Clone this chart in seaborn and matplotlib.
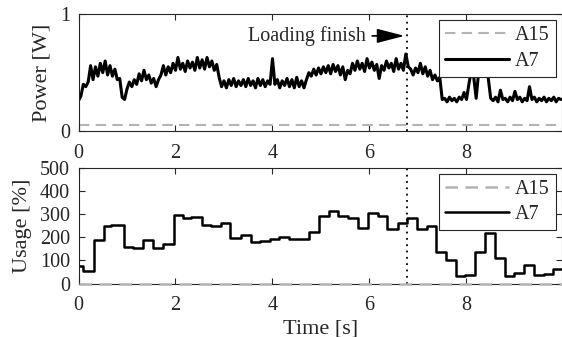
import matplotlib
matplotlib.use("Agg")
import matplotlib.pyplot as plt
import seaborn as sns
import numpy as np
import pandas as pd

power_t = [round(0.05 * i, 2) for i in range(200)]
power_a7 = [
    0.26, 0.30, 0.40, 0.38, 0.42, 0.56, 0.44, 0.55, 0.47, 0.58,
    0.50, 0.60, 0.48, 0.56, 0.47, 0.53, 0.44, 0.45, 0.29, 0.27,
    0.36, 0.42, 0.38, 0.44, 0.40, 0.49, 0.43, 0.52, 0.44, 0.48,
    0.41, 0.45, 0.38, 0.44, 0.48, 0.56, 0.48, 0.55, 0.50, 0.58,
    0.52, 0.63, 0.53, 0.58, 0.51, 0.60, 0.54, 0.59, 0.52, 0.63,
    0.54, 0.61, 0.53, 0.63, 0.55, 0.60, 0.52, 0.57, 0.46, 0.38,
    0.43, 0.37, 0.44, 0.39, 0.45, 0.38, 0.43, 0.39, 0.44, 0.38,
    0.45, 0.39, 0.43, 0.37, 0.45, 0.39, 0.44, 0.38, 0.43, 0.40,
    0.62, 0.40, 0.44, 0.37, 0.43, 0.39, 0.45, 0.38, 0.44, 0.37,
    0.46, 0.38, 0.43, 0.37, 0.44, 0.50, 0.47, 0.53, 0.48, 0.54,
    0.49, 0.55, 0.50, 0.56, 0.49, 0.57, 0.51, 0.56, 0.48, 0.55,
    0.44, 0.52, 0.49, 0.58, 0.52, 0.60, 0.53, 0.58, 0.51, 0.62,
    0.54, 0.59, 0.52, 0.57, 0.45, 0.56, 0.52, 0.60, 0.54, 0.58,
    0.51, 0.62, 0.53, 0.58, 0.52, 0.66, 0.55, 0.53, 0.48, 0.54,
    0.50, 0.58, 0.49, 0.55, 0.47, 0.52, 0.44, 0.48, 0.43, 0.46,
    0.27, 0.28, 0.25, 0.29, 0.26, 0.28, 0.25, 0.29, 0.27, 0.33,
    0.27, 0.40, 0.52, 0.46, 0.28, 0.50, 0.56, 0.47, 0.52, 0.45,
    0.28, 0.26, 0.29, 0.25, 0.35, 0.27, 0.28, 0.25, 0.29, 0.26,
    0.34, 0.27, 0.29, 0.25, 0.28, 0.26, 0.38, 0.27, 0.29, 0.25,
    0.28, 0.26, 0.29, 0.25, 0.28, 0.26, 0.29, 0.25, 0.28, 0.27,
]
power_a15 = [0.05] * len(power_t)

# usage of the A7 cluster, step values starting at each time
usage_t = [0.0, 0.10, 0.32, 0.52, 0.67, 0.93, 1.13, 1.34, 1.54, 1.74,
           1.96, 2.15, 2.33, 2.54, 2.74, 2.94, 3.13, 3.35, 3.55, 3.74,
           3.94, 4.14, 4.35, 4.55, 4.75, 4.96, 5.16, 5.36, 5.56, 5.77,
           5.97, 6.17, 6.37, 6.58, 6.78, 6.99, 7.19, 7.38, 7.58, 7.78,
           7.98, 8.18, 8.39, 8.59, 8.79, 8.99, 9.19, 9.40, 9.59, 9.79, 10.0]
usage_a7 = [75, 55, 190, 248, 255, 160, 153, 189, 153, 173,
            297, 285, 290, 254, 249, 262, 197, 209, 181, 184,
            193, 201, 193, 193, 224, 292, 314, 291, 285, 240,
            306, 291, 235, 260, 282, 237, 249, 135, 104, 31,
            36, 136, 218, 109, 33, 45, 80, 36, 42, 65, 65]
usage_a15 = [0] * len(usage_t)

loading_finish = 6.78

sns.set_style("ticks", {"axes.edgecolor": "#262626", "xtick.direction": "in", "ytick.direction": "in"})
plt.rcParams['font.family'] = ['Liberation Serif', 'DejaVu Serif']

W, H = 562, 337
fig = plt.figure(figsize=(W / 100, H / 100), dpi=100)
left = 78.5 / W
width = 1.0 - left
ax1 = fig.add_axes([left, 1 - 131 / H, width, (131 - 14.3) / H])
ax2 = fig.add_axes([left, 1 - 283.6 / H, width, (283.6 - 168) / H])

gray = "#b4b4b4"
tick_fs = 14.5
label_fs = 16

pw = pd.DataFrame({"t": power_t, "A15": power_a15, "A7": power_a7})
us = pd.DataFrame({"t": usage_t, "A15": usage_a15, "A7": usage_a7})

sns.lineplot(data=pw, x="t", y="A15", ax=ax1, color=gray, lw=1.5,
             linestyle=(0, (5, 3)), label="A15")
sns.lineplot(data=pw, x="t", y="A7", ax=ax1, color="black", lw=2.2, label="A7")

sns.lineplot(data=us, x="t", y="A15", ax=ax2, color=gray, lw=1.8,
             linestyle=(0, (5, 3)), drawstyle="steps-post", label="A15", clip_on=False, zorder=5)
sns.lineplot(data=us, x="t", y="A7", ax=ax2, color="black", lw=1.8,
             drawstyle="steps-post", label="A7")

for ax in (ax1, ax2):
    ax.axvline(loading_finish, color="black", ls=(0, (1, 2.5)), lw=1.3)
    ax.set_xlim(0, 9.97)
    ax.set_xticks([0, 2, 4, 6, 8])
    ax.tick_params(which="both", direction="in", top=True, right=True,
                   length=4, width=0.8, labelsize=tick_fs, colors="#262626")
    ax.tick_params(axis="x", pad=9)
    ax.tick_params(axis="y", pad=6)
    for s in ax.spines.values():
        s.set_linewidth(0.8)
        s.set_visible(True)
    ax.set_xlabel("")
    leg = ax.legend(loc="upper right", fontsize=tick_fs, frameon=True, fancybox=False,
                    edgecolor="#262626", framealpha=1, handlelength=3.2,
                    borderaxespad=0.3, borderpad=0.3, labelspacing=0.3, handletextpad=0.3)
    leg.get_frame().set_linewidth(0.8)

ax1.set_ylim(0, 1)
ax1.set_yticks([0, 1])
ax1.set_ylabel("Power [W]", fontsize=label_fs, labelpad=6)
ax1.annotate("Loading finish", xy=(loading_finish, 0.815), xytext=(5.93, 0.815),
             ha="right", va="center", fontsize=tick_fs,
             arrowprops=dict(arrowstyle="-|>,head_length=0.85,head_width=0.22",
                             color="black", lw=1.2, mutation_scale=20))

ax2.set_ylim(0, 500)
ax2.set_yticks([0, 100, 200, 300, 400, 500])
ax2.set_ylabel("Usage [%]", fontsize=label_fs, labelpad=6)
ax2.set_xlabel("Time [s]", fontsize=label_fs, labelpad=3)

fig.savefig("out.png", dpi=100)
